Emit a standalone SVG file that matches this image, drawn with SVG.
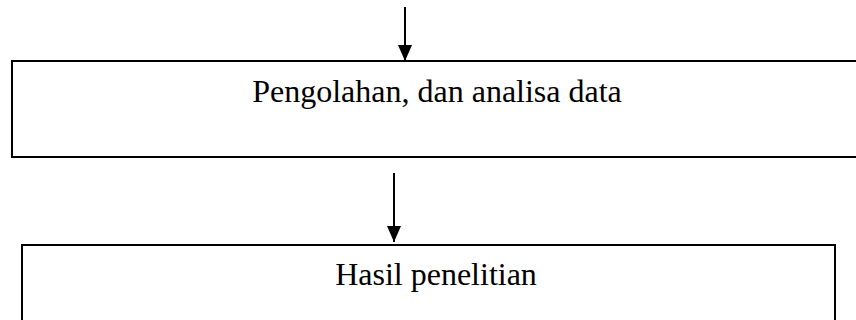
<svg xmlns="http://www.w3.org/2000/svg" width="856" height="320" viewBox="0 0 856 320">
<style>
.box{fill:#fff;stroke:#000;stroke-width:2}
.lbl{font-family:"Liberation Serif","Times New Roman",serif;font-size:32px;fill:#000;text-anchor:middle}
.conn{stroke:#000;stroke-width:2;fill:none;marker-end:url(#ah)}
</style>
<defs>
<marker id="ah" markerWidth="16" markerHeight="14" refX="16" refY="7" orient="auto" markerUnits="userSpaceOnUse" viewBox="0 0 16 14">
<path d="M0,0 L16,7 L0,14 Z" fill="#000"/>
</marker>
</defs>
<rect width="856" height="320" fill="#fff"/>
<g id="node-pengolahan">
<rect class="box" x="12" y="61" width="850" height="96"/>
<text class="lbl" x="437" y="102">Pengolahan, dan analisa data</text>
</g>
<g id="node-hasil">
<rect class="box" x="22" y="245" width="813" height="90"/>
<text class="lbl" x="436" y="285">Hasil penelitian</text>
</g>
<g id="connectors">
<line class="conn" x1="405" y1="7" x2="405" y2="61"/>
<line class="conn" x1="394" y1="173" x2="394" y2="242"/>
</g>
</svg>
